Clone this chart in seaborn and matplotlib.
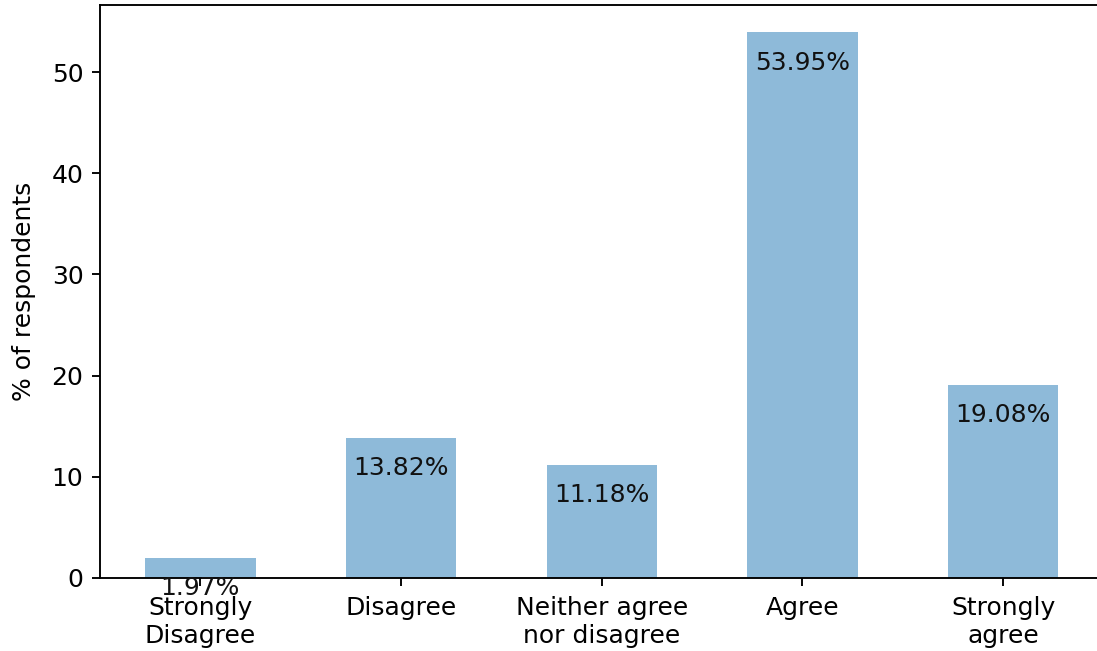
import matplotlib
matplotlib.use("Agg")
import matplotlib.pyplot as plt
import seaborn as sns
import pandas as pd

# Survey answers and share of respondents (%)
categories = ["Strongly\nDisagree", "Disagree", "Neither agree\nnor disagree", "Agree", "Strongly\nagree"]
percentages = [1.97, 13.82, 11.18, 53.95, 19.08]

df = pd.DataFrame({"answer": categories, "pct": percentages})

plt.rcParams["font.size"] = 10.6
plt.rcParams["xtick.major.pad"] = 4.3

DPI = 170
fig = plt.figure(figsize=(1097 / DPI, 651 / DPI), dpi=DPI)
# axes run slightly past the right edge, as in the cropped original
ax = fig.add_axes([100 / 1097, 73.3 / 651, 1003.5 / 1097, 572.7 / 651])

sns.barplot(data=df, x="answer", y="pct", color="#1f77b4", alpha=0.5,
            saturation=1, width=0.55, ax=ax)

for i, v in enumerate(percentages):
    ax.text(i, v - 3.0, f"{v:.2f}%", ha="center", va="center", fontsize=10.6,
            color="#111111")

ax.set_xlim(-0.5, len(categories) - 0.5)
ax.set_ylim(0, max(percentages) * 1.05)
ax.set_xlabel("")
ax.set_ylabel("% of respondents", labelpad=6.5)

plt.savefig("out.png", dpi=DPI)
plt.close()
